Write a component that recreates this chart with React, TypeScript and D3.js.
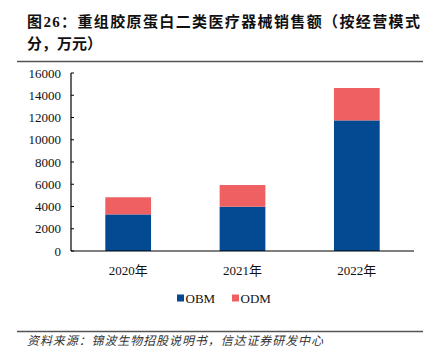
import React from "react";
import * as d3 from "d3";

const years = ["2020年", "2021年", "2022年"];
const obm = [3290, 3980, 11740];
const odm = [1540, 1950, 2910];
const yTicks = [0, 2000, 4000, 6000, 8000, 10000, 12000, 14000, 16000];
const seriesNames = ["OBM", "ODM"];
const colors = ["#034a93", "#ef6062"];

const W = 434;
const H = 364;
const left = 71;
const right = 414;
const top = 73;
const bottom = 251;

const serif = "'Liberation Serif', 'Noto Sans CJK SC', serif";

const App = () => {
  const x = d3.scaleBand().domain(years).range([left, right]).padding(0);
  const y = d3.scaleLinear().domain([0, 16000]).range([bottom, top]);
  const barW = x.bandwidth() * 0.4;

  const stacked = d3.stack<any>().keys(seriesNames)(
    years.map((yr, i) => ({ year: yr, OBM: obm[i], ODM: odm[i] }))
  );

  return (
    <svg
      width={W}
      height={H}
      style={{ position: "absolute", left: 0, top: 0, background: "#fff" }}
      fontFamily={serif}
    >
      {/* title */}
      <text x={27} y={27} fontSize={15} fontWeight="bold" fill="#111" textLength={393} lengthAdjust="spacing">
        图26：重组胶原蛋白二类医疗器械销售额（按经营模式
      </text>
      <text x={27} y={49} fontSize={15} fontWeight="bold" fill="#111">
        分，万元）
      </text>
      <line x1={17} x2={423} y1={61.5} y2={61.5} stroke="#555" strokeWidth={1.5} />

      {/* bars */}
      {stacked.map((s, si) =>
        s.map((d, i) => (
          <rect
            key={`${si}-${i}`}
            x={(x(years[i]) as number) + (x.bandwidth() - barW) / 2}
            y={y(d[1])}
            width={barW}
            height={y(d[0]) - y(d[1])}
            fill={colors[si]}
          />
        ))
      )}

      {/* y axis */}
      <line x1={left} x2={left} y1={top} y2={bottom} stroke="#000" strokeWidth={1.2} />
      {yTicks.map((t) => (
        <g key={t}>
          <line x1={left} x2={left + 3} y1={y(t)} y2={y(t)} stroke="#000" strokeWidth={1} />
          <text x={61} y={y(t)} dy="0.35em" fontSize={13} textAnchor="end" fill="#111">
            {t}
          </text>
        </g>
      ))}

      {/* x axis */}
      <line x1={left} x2={right} y1={bottom} y2={bottom} stroke="#000" strokeWidth={1.2} />
      {years.map((yr) => (
        <text
          key={yr}
          x={(x(yr) as number) + x.bandwidth() / 2}
          y={270}
          dy="0.35em"
          fontSize={13}
          textAnchor="middle"
          fill="#111"
        >
          {yr}
        </text>
      ))}

      {/* legend */}
      {seriesNames.map((n, i) => (
        <g key={n} transform={`translate(${177 + i * 55},298)`}>
          <rect x={0} y={-3.5} width={7} height={7} fill={colors[i]} />
          <text x={8.5} y={0} dy="0.35em" fontSize={13} fill="#111">
            {n}
          </text>
        </g>
      ))}

      {/* source */}
      <line x1={17} x2={423} y1={331.5} y2={331.5} stroke="#555" strokeWidth={1.5} />
      <text
        x={27}
        y={345}
        fontSize={12}
        fontStyle="italic"
        fill="#333"
        textLength={296}
        lengthAdjust="spacing"
      >
        资料来源：锦波生物招股说明书，信达证券研发中心
      </text>
    </svg>
  );
};

export default App;
